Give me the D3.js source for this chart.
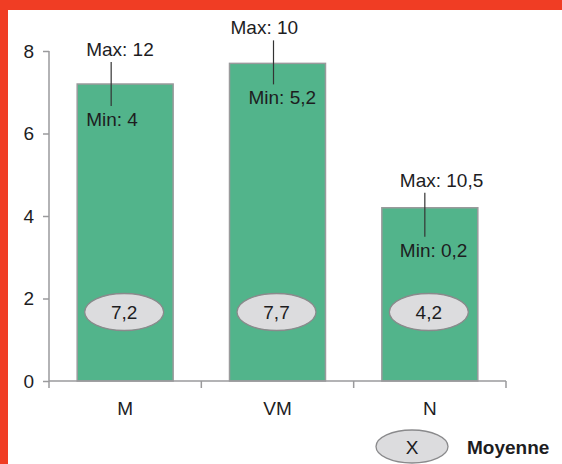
<!DOCTYPE html>
<html>
<head>
<meta charset="utf-8">
<script src="https://cdn.jsdelivr.net/npm/d3@7"></script>
<style>
  html, body { margin: 0; padding: 0; background: #fff; }
  svg { display: block; font-family: "Liberation Sans", Arial, Helvetica, sans-serif; }
</style>
</head>
<body>
<svg id="chart" width="562" height="464"></svg>
<script>
// Categories and values
const categories = ["M", "VM", "N"];
const means = [7.2, 7.7, 4.2];
const maxValues = ["12", "10", "10,5"];
const minValues = ["4", "5,2", "0,2"];
const yTicks = [0, 2, 4, 6, 8];
const legendLabel = "Moyenne";
const legendSymbol = "X";

// Annotation placement (pixel offsets relative to each bar)
const annotDx = [-14, -4, -5];      // connector x offset from bar centre
const annotDy = [-22, -23, -15];    // connector top offset from bar top
const maxTextDx = [-25, -43, -25];  // Max label left edge offset from connector
const minTextDx = [-25, -25, -25];  // Min label left edge offset from connector

const fmt = v => String(v).replace(".", ",");
const FS = "19px";

const svg = d3.select("#chart");
const W = 562, H = 464;

// Frame
svg.append("rect").attr("x", 0).attr("y", 0).attr("width", W).attr("height", H).attr("fill", "#f03d24");
svg.append("rect").attr("x", 8).attr("y", 10).attr("width", W - 8).attr("height", H - 10).attr("fill", "#fff");

const x = d3.scaleBand().domain(categories).range([49, 506]).paddingInner(0.37).paddingOuter(0.185);
const y = d3.scaleLinear().domain([0, 8]).range([381, 51]);

const axisColor = "#9a9a9c";
const textColor = "#1d1d1f";

// Bars
svg.append("g").selectAll("rect").data(categories).join("rect")
  .attr("x", d => x(d))
  .attr("y", (d, i) => y(means[i]))
  .attr("width", x.bandwidth())
  .attr("height", (d, i) => y(0) - y(means[i]))
  .attr("fill", "#52b48b")
  .attr("stroke", "#9a9a9c")
  .attr("stroke-width", 1.5);

// Y axis
const yAxis = svg.append("g").attr("transform", "translate(49,0)")
  .call(d3.axisLeft(y).tickValues(yTicks).tickSize(6).tickPadding(9).tickFormat(d3.format("d")));
yAxis.select(".domain").remove();
yAxis.selectAll(".tick line").attr("stroke", axisColor).attr("stroke-width", 1.5);
yAxis.selectAll(".tick text").attr("fill", textColor).style("font-size", FS).style("font-family", "Liberation Sans, Arial, sans-serif");
svg.append("line").attr("x1", 49).attr("x2", 49).attr("y1", y(8)).attr("y2", y(0) + 7)
  .attr("stroke", axisColor).attr("stroke-width", 1.5);

// X axis with ticks at band boundaries
const xr = x.range();
svg.append("line").attr("x1", xr[0]).attr("x2", xr[1]).attr("y1", y(0)).attr("y2", y(0))
  .attr("stroke", axisColor).attr("stroke-width", 1.5);
const bounds = [xr[0]].concat(categories.map(c => x(c) + x.bandwidth() + x.step() * 0.37 / 2));
bounds[bounds.length - 1] = xr[1];
svg.append("g").selectAll("line").data(bounds.slice(1)).join("line")
  .attr("x1", d => d).attr("x2", d => d).attr("y1", y(0)).attr("y2", y(0) + 7)
  .attr("stroke", axisColor).attr("stroke-width", 1.5);
svg.append("g").selectAll("text").data(categories).join("text")
  .attr("x", d => x(d) + x.bandwidth() / 2)
  .attr("y", 415)
  .attr("text-anchor", "middle")
  .attr("fill", textColor)
  .style("font-size", FS)
  .text(d => d);

// Max / Min annotations
const ann = svg.append("g");
categories.forEach((c, i) => {
  const cx = x(c) + x.bandwidth() / 2 + annotDx[i];
  const top = y(means[i]) + annotDy[i];
  const bottom = top + 44;
  ann.append("line").attr("x1", cx).attr("x2", cx).attr("y1", top).attr("y2", bottom)
    .attr("stroke", "#333").attr("stroke-width", 1.2);
  ann.append("text").attr("x", cx + maxTextDx[i]).attr("y", top - 6)
    .attr("fill", textColor).style("font-size", FS).text("Max: " + maxValues[i]);
  ann.append("text").attr("x", cx + minTextDx[i]).attr("y", bottom + 20)
    .attr("fill", textColor).style("font-size", FS).text("Min: " + minValues[i]);
});

// Mean ellipses
const ell = svg.append("g");
categories.forEach((c, i) => {
  const cx = x(c) + x.bandwidth() / 2 - 1;
  const cy = 312;
  ell.append("ellipse").attr("cx", cx).attr("cy", cy).attr("rx", 39.5).attr("ry", 18.5)
    .attr("fill", "#dcdcde").attr("stroke", "#8a8a8c").attr("stroke-width", 1.3);
  ell.append("text").attr("x", cx).attr("y", cy + 7).attr("text-anchor", "middle")
    .attr("fill", textColor).style("font-size", FS).text(fmt(means[i]));
});

// Legend
const lg = svg.append("g");
lg.append("ellipse").attr("cx", 412).attr("cy", 446.5).attr("rx", 36).attr("ry", 16.5)
  .attr("fill", "#dcdcde").attr("stroke", "#8a8a8c").attr("stroke-width", 1.3);
lg.append("text").attr("x", 412).attr("y", 454).attr("text-anchor", "middle")
  .attr("fill", textColor).style("font-size", FS).text(legendSymbol);
lg.append("text").attr("x", 467).attr("y", 454)
  .attr("fill", textColor).style("font-size", FS).style("font-weight", "bold").text(legendLabel);
</script>
</body>
</html>
